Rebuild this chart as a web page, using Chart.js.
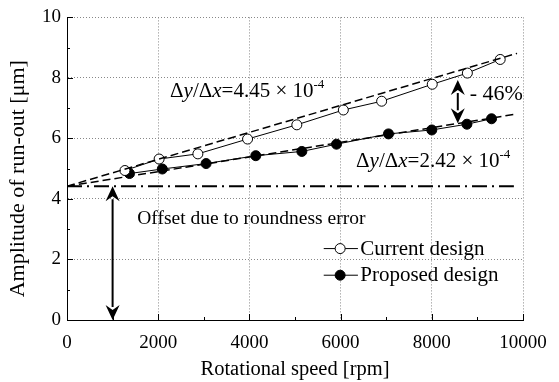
<!DOCTYPE html>
<html>
<head>
<meta charset="utf-8">
<script src="https://cdn.jsdelivr.net/npm/chart.js@4"></script>
<style>
  html, body { margin: 0; padding: 0; background: #fff; }
</style>
</head>
<body>
<canvas id="Chart" width="559" height="382"></canvas>
<script>
// measured points (rpm, um)
const speedCurrent = [1270, 2020, 2870, 3960, 5040, 6060, 6900, 8010, 8780, 9500];
const ampCurrent = [4.94, 5.32, 5.49, 5.98, 6.45, 6.94, 7.23, 7.79, 8.16, 8.61];
const speedProposed = [1370, 2090, 3050, 4140, 5150, 5910, 7050, 8000, 8770, 9310];
const ampProposed = [4.84, 4.99, 5.17, 5.43, 5.57, 5.81, 6.15, 6.28, 6.47, 6.65];

// linear fits: slope per rpm, common intercept, drawn range
const fitSlopes = [4.45e-4, 2.42e-4];
const fitIntercept = 4.42;
const fitRange = [0, 9870];
const offsetLevel = 4.42;
const offsetRange = [0, 9800];

const xTicks = [0, 2000, 4000, 6000, 8000, 10000];
const yTicks = [0, 2, 4, 6, 8, 10];
const seriesNames = ['Current design', 'Proposed design'];
const yTitle = 'Amplitude of run-out [μm]';

const FONT = "'Liberation Serif', 'Times New Roman', serif";

function pts(xs, ys) {
    return xs.map((x, i) => ({x: x, y: ys[i]}));
}
function fitLine(slope) {
    return fitRange.map(x => ({x: x, y: fitIntercept + slope * x}));
}

//draw a vertical double headed arrow
function arrow(ctx, x, y1, y2) {
    const h = 15, w = 7;
    ctx.save();
    ctx.strokeStyle = '#000';
    ctx.fillStyle = '#000';
    ctx.lineWidth = 2;
    ctx.beginPath();
    ctx.moveTo(x, y1 + h - 2);
    ctx.lineTo(x, y2 - h + 2);
    ctx.stroke();
    ctx.beginPath();
    ctx.moveTo(x, y1); ctx.lineTo(x - w, y1 + h); ctx.lineTo(x, y1 + h - 5); ctx.lineTo(x + w, y1 + h);
    ctx.closePath(); ctx.fill();
    ctx.beginPath();
    ctx.moveTo(x, y2); ctx.lineTo(x - w, y2 - h); ctx.lineTo(x, y2 - h + 5); ctx.lineTo(x + w, y2 - h);
    ctx.closePath(); ctx.fill();
    ctx.restore();
}

//text with italic and superscript runs
function rich(ctx, x, y, parts, size) {
    ctx.save();
    ctx.fillStyle = '#000';
    ctx.textBaseline = 'alphabetic';
    ctx.textAlign = 'left';
    for (const p of parts) {
        let s = size, dy = 0;
        if (p.sup) { s = size * 0.62; dy = -size * 0.42; }
        ctx.font = (p.i ? 'italic ' : '') + s + 'px ' + FONT;
        ctx.fillText(p.t, x, y + dy);
        x += ctx.measureText(p.t).width;
    }
    ctx.restore();
}

function slopeLabel(v) {
    return [{t: 'Δ'}, {t: 'y', i: true}, {t: '/Δ'}, {t: 'x', i: true},
            {t: '=' + v + ' × 10'}, {t: '-4', sup: true}];
}

const annot = {
    id: 'annot',
    afterDatasetsDraw(chart) {
        const ctx = chart.ctx;
        const sx = chart.scales.x, sy = chart.scales.y;
        const px = v => sx.getPixelForValue(v);
        const py = v => sy.getPixelForValue(v);

        // inward tick marks
        ctx.save();
        ctx.strokeStyle = '#000';
        ctx.lineWidth = 1;
        ctx.beginPath();
        for (let v = 1000; v <= 10000; v += 1000) {
            const len = v % 2000 === 0 ? 6 : 3;
            const x = Math.round(px(v)) + 0.5;
            ctx.moveTo(x, sy.bottom); ctx.lineTo(x, sy.bottom - len);
        }
        for (let v = 1; v <= 10; v++) {
            const len = v % 2 === 0 ? 6 : 3;
            const y = Math.round(py(v)) + 0.5;
            ctx.moveTo(sx.left, y); ctx.lineTo(sx.left + len, y);
        }
        ctx.stroke();
        ctx.restore();

        // y axis title, a little below the middle like the original
        ctx.save();
        ctx.translate(18, (sy.top + sy.bottom) / 2 + 10);
        ctx.rotate(-Math.PI / 2);
        ctx.font = '22px ' + FONT;
        ctx.fillStyle = '#000';
        ctx.textAlign = 'center';
        ctx.textBaseline = 'middle';
        ctx.fillText(yTitle, 0, 0);
        ctx.restore();

        arrow(ctx, px(1000), py(offsetLevel), py(0));
        arrow(ctx, px(8570), py(7.93), py(6.5));

        rich(ctx, px(2260), py(7.36), slopeLabel('4.45'), 21);
        rich(ctx, px(6340), py(5.06), slopeLabel('2.42'), 21);
        rich(ctx, px(8830), py(7.28), [{t: '- 46%'}], 22);
        rich(ctx, px(1540), py(3.16), [{t: 'Offset due to roundness error'}], 19.5);

        // legend
        const rows = [2.36, 1.48];
        rows.forEach((yv, i) => {
            const y = py(yv);
            ctx.save();
            ctx.strokeStyle = '#000';
            ctx.lineWidth = 1;
            ctx.beginPath();
            ctx.moveTo(px(5630), y); ctx.lineTo(px(6380), y);
            ctx.stroke();
            ctx.beginPath();
            ctx.arc(px(5990), y, 5, 0, Math.PI * 2);
            ctx.fillStyle = i === 0 ? '#fff' : '#000';
            ctx.fill();
            ctx.stroke();
            ctx.restore();
            rich(ctx, px(6430), y + 6, [{t: seriesNames[i]}], 21);
        });
    }
};

const ctx = document.getElementById('Chart').getContext('2d');
const myChart = new Chart(ctx, {
    type: 'scatter',
    data: {
        datasets: [
            {
                label: 'offset',
                data: offsetRange.map(x => ({x: x, y: offsetLevel})),
                showLine: true, borderColor: '#000', borderWidth: 1.8,
                borderDash: [15, 5, 2, 5], pointRadius: 0
            },
            {
                label: 'fit current',
                data: fitLine(fitSlopes[0]),
                showLine: true, borderColor: '#000', borderWidth: 1.5,
                borderDash: [8, 4], pointRadius: 0
            },
            {
                label: 'fit proposed',
                data: fitLine(fitSlopes[1]),
                showLine: true, borderColor: '#000', borderWidth: 1.5,
                borderDash: [8, 4], pointRadius: 0
            },
            {
                label: seriesNames[0],
                data: pts(speedCurrent, ampCurrent),
                showLine: true, borderColor: '#000', borderWidth: 1,
                pointRadius: 5, pointBackgroundColor: '#fff', pointBorderColor: '#000', pointBorderWidth: 1
            },
            {
                label: seriesNames[1],
                data: pts(speedProposed, ampProposed),
                showLine: true, borderColor: '#000', borderWidth: 1,
                pointRadius: 5, pointBackgroundColor: '#000', pointBorderColor: '#000', pointBorderWidth: 1
            }
        ]
    },
    options: {
        responsive: false,
        animation: false,
        devicePixelRatio: 1,
        layout: { padding: { top: 15, right: 36, left: 0, bottom: 0 } },
        plugins: { legend: { display: false }, tooltip: { enabled: false } },
        scales: {
            x: {
                type: 'linear', min: 0, max: 10000,
                afterBuildTicks: s => { s.ticks = xTicks.map(v => ({value: v})); },
                afterFit: s => { s.height = 62; },
                ticks: { color: '#000', font: { family: FONT, size: 19 }, padding: 12, maxRotation: 0,
                         callback: v => String(v) },
                grid: { color: '#888', lineWidth: 1, drawTicks: false },
                border: { color: '#000', width: 1, dash: [1, 2] },
                title: { display: true, text: 'Rotational speed [rpm]', color: '#000',
                         font: { family: FONT, size: 20.5 }, padding: { top: 2, bottom: 0 } }
            },
            y: {
                type: 'linear', min: 0, max: 10,
                afterBuildTicks: s => { s.ticks = yTicks.map(v => ({value: v})); },
                afterFit: s => { s.width = 67; },
                ticks: { color: '#000', font: { family: FONT, size: 19 }, padding: 6,
                         callback: v => String(v) },
                grid: { color: '#888', lineWidth: 1, drawTicks: false },
                border: { color: '#000', width: 1, dash: [1, 2] },
                title: { display: false }
            }
        }
    },
    plugins: [annot]
});
</script>
</body>
</html>
